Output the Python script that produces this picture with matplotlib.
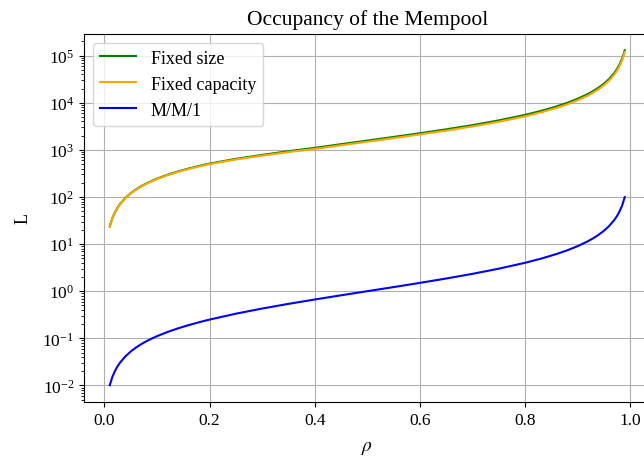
import matplotlib
matplotlib.use("Agg")
import matplotlib.pyplot as plt
from matplotlib.ticker import LogLocator, NullFormatter

plt.rcParams["font.family"] = ["Liberation Serif", "DejaVu Serif"]
plt.rcParams["mathtext.fontset"] = "stix"

# load factor rho and mean occupancy L
rho = [0.01, 0.015, 0.02, 0.025, 0.03, 0.04, 0.05, 0.06, 0.07, 0.08, 0.09,
       0.10, 0.12, 0.14, 0.16, 0.18, 0.20, 0.25, 0.30, 0.35, 0.40, 0.45,
       0.50, 0.55, 0.60, 0.65, 0.70, 0.75, 0.80, 0.83, 0.86, 0.88, 0.90,
       0.92, 0.93, 0.94, 0.95, 0.96, 0.97, 0.975, 0.98, 0.985, 0.99]

fixed_size = [23.7, 35.7, 47.6, 59.6, 71.7, 95.8, 120.2, 144.7, 169.4, 194.2,
              219.3, 244.4, 295.7, 347.7, 400.8, 454.8, 510, 643, 780, 934,
              1100, 1317, 1570, 1876, 2250, 2720, 3336, 4206, 5500, 6664,
              8324, 9878, 12060, 15330, 17676, 20794, 25137, 31680, 42579,
              51285, 64386, 86159, 129690]

fixed_capacity = [23.5, 35.3, 47.1, 59.0, 70.9, 94.6, 118.6, 142.6, 166.8,
                  191.0, 215.5, 239.8, 289.7, 340.3, 391.8, 443.9, 497, 624,
                  753, 897, 1045, 1249, 1486, 1773, 2121, 2557, 3128, 3933,
                  5126, 6204, 7741, 9178, 11194, 14212, 16378, 19259, 23271,
                  29316, 39386, 47424, 59520, 79610, 119800]

mm1 = [0.0101, 0.01523, 0.02041, 0.02564, 0.03093, 0.04167, 0.05263, 0.06383,
       0.07527, 0.08696, 0.0989, 0.1111, 0.1364, 0.1628, 0.1905, 0.2195,
       0.25, 0.3333, 0.4286, 0.5385, 0.6667, 0.8182, 1.0, 1.2222, 1.5,
       1.857, 2.333, 3.0, 4.0, 4.882, 6.143, 7.333, 9.0, 11.5, 13.29, 15.67,
       19.0, 24.0, 32.33, 39.0, 49.0, 65.67, 99.0]

fig = plt.figure(figsize=(6.44, 4.60), dpi=100)
W, H = 644, 460
ax = fig.add_axes([84 / W, 1 - 403 / H, (650.5 - 84) / W, (403 - 34.5) / H])

ax.plot(rho, fixed_size, color="green", lw=1.5, label="Fixed size")
ax.plot(rho, fixed_capacity, color="orange", lw=1.5, label="Fixed capacity")
ax.plot(rho, mm1, color="blue", lw=1.5, label="M/M/1")

ax.set_yscale("log")
ax.yaxis.set_major_locator(LogLocator(base=10, numticks=20))
ax.yaxis.set_minor_locator(LogLocator(base=10, subs=range(2, 10), numticks=100))
ax.yaxis.set_minor_formatter(NullFormatter())
ax.tick_params(axis="y", which="minor", length=2.5)
ax.grid(True, color="#b0b0b0", lw=0.8)
ax.set_axisbelow(True)
ax.tick_params(labelsize=12.5)

ax.set_title("Occupancy of the Mempool", fontsize=15.5, pad=7)
ax.set_xlabel(r"$\rho$", fontsize=14, labelpad=8)
ax.set_ylabel("L", fontsize=13, labelpad=8)
ax.legend(loc="upper left", fontsize=13)

fig.savefig("out.png", dpi=100)
